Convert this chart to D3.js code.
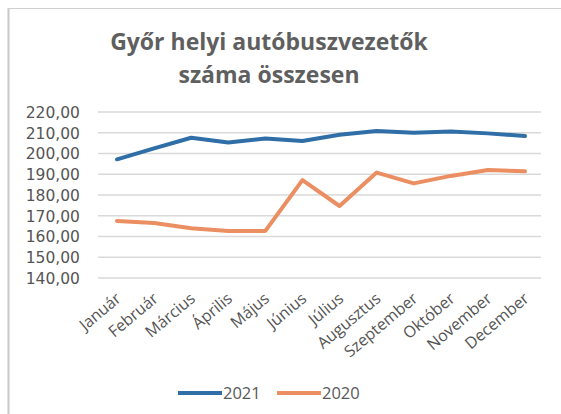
<!DOCTYPE html>
<html><head><meta charset="utf-8">
<script src="https://cdn.jsdelivr.net/npm/d3@7"></script>
<style>body{margin:0;background:#fff}</style>
</head><body>
<script>
const months = ["Január","Február","Március","Április","Május","Június","Július","Augusztus","Szeptember","Október","November","December"];
const values2021 = [197.2,202.5,207.6,205.3,207.2,206.0,209.0,210.8,210.0,210.6,209.7,208.4];
const values2020 = [167.5,166.5,164.0,162.7,162.7,187.2,174.7,190.8,185.6,189.2,192.0,191.4];
const yTicks = [140,150,160,170,180,190,200,210,220];
const seriesNames = ["2021","2020"];
const colors = ["#2f6ea6","#eb8f62"];

const W=561,H=414;
const svg=d3.select("body").append("svg").attr("width",W).attr("height",H);
svg.append("rect").attr("width",W).attr("height",H).attr("fill","#fff");
svg.append("line").attr("x1",8.5).attr("x2",8.5).attr("y1",8).attr("y2",H).attr("stroke","#c8c8c8").attr("stroke-width",2);
svg.append("line").attr("x1",8).attr("x2",W).attr("y1",8.5).attr("y2",8.5).attr("stroke","#d0d0d0").attr("stroke-width",1);

const font="'Open Sans', Lato, sans-serif";
svg.append("text").attr("x",269).attr("y",50).attr("text-anchor","middle")
  .attr("font-family",font).attr("font-weight",700).attr("font-size",23).attr("fill","#5f5f5f").text("Győr helyi autóbuszvezetők");
svg.append("text").attr("x",269).attr("y",83).attr("text-anchor","middle")
  .attr("font-family",font).attr("font-weight",700).attr("font-size",23).attr("fill","#5f5f5f").text("száma összesen");

const x=d3.scalePoint().domain(months).range([117,525]);
const y=d3.scaleLinear().domain([140,220]).range([278,112]);

const grid=svg.append("g");
grid.selectAll("line").data(yTicks).join("line")
  .attr("x1",98).attr("x2",541).attr("y1",d=>y(d)).attr("y2",d=>y(d))
  .attr("stroke","#d9d9d9").attr("stroke-width",1.5);

const fmt=d=>d.toFixed(2).replace(".",",");
const yAxis=d3.axisLeft(y).tickValues(yTicks).tickFormat(fmt).tickSize(0).tickPadding(0);
const ya=svg.append("g").attr("transform","translate(80,0)").call(yAxis);
ya.select(".domain").remove();
ya.selectAll("text").attr("font-family","'DejaVu Sans', sans-serif").attr("font-size",15.5).attr("fill","#555").attr("dy","0.35em");

const xAxis=d3.axisBottom(x).tickSize(0).tickPadding(0);
const xa=svg.append("g").attr("transform","translate(0,296)").call(xAxis);
xa.select(".domain").remove();
xa.selectAll("text").attr("font-family",font).attr("font-size",16).attr("fill","#555")
  .attr("text-anchor","end").attr("dy","0.35em").attr("transform","translate(1,0) rotate(-40)");

const line=d3.line().x((d,i)=>x(months[i])).y(d=>y(d));
[values2021,values2020].forEach((vals,k)=>{
  svg.append("path").datum(vals).attr("d",line).attr("fill","none")
    .attr("stroke",colors[k]).attr("stroke-width",4).attr("stroke-linejoin","round").attr("stroke-linecap","round");
});

const legX=[178,277];
seriesNames.forEach((n,k)=>{
  svg.append("line").attr("x1",legX[k]).attr("x2",legX[k]+44).attr("y1",393).attr("y2",393)
    .attr("stroke",colors[k]).attr("stroke-width",4);
  svg.append("text").attr("x",legX[k]+45).attr("y",393).attr("dy","0.35em")
    .attr("font-family",font).attr("font-size",16.5).attr("fill","#595959").text(n);
});
</script>
</body></html>
